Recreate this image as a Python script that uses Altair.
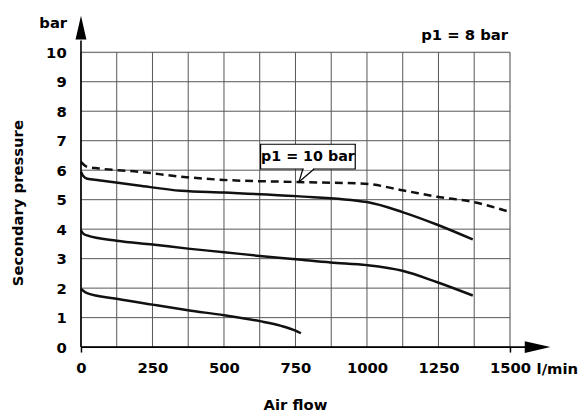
import altair as alt
import pandas as pd

# ---- data ----
dash_x = [0, 20, 62, 200, 350, 500, 752, 993, 1124, 1245, 1372, 1500]
dash_y = [6.28, 6.12, 6.06, 5.95, 5.78, 5.67, 5.6, 5.54, 5.32, 5.1, 4.92, 4.58]

top_x = [0, 8, 22, 62, 200, 350, 500, 752, 1000, 1124, 1246, 1370]
top_y = [5.95, 5.8, 5.71, 5.66, 5.48, 5.3, 5.24, 5.12, 4.92, 4.58, 4.15, 3.65]

mid_x = [0, 8, 21, 125, 250, 374, 500, 625, 752, 873, 1000, 1124, 1246, 1370]
mid_y = [3.96, 3.85, 3.79, 3.61, 3.48, 3.34, 3.22, 3.09, 2.98, 2.87, 2.78, 2.59, 2.2, 1.75]

low_x = [0, 21, 125, 250, 374, 500, 625, 700, 752, 769]
low_y = [1.97, 1.83, 1.64, 1.44, 1.25, 1.08, 0.88, 0.72, 0.55, 0.47]

x_grid = list(range(0, 1501, 125))
x_labels = list(range(0, 1501, 250))
y_ticks = list(range(0, 11))

# callout annotation (data coordinates)
box = {"x": 628, "x2": 959, "y": 6.88, "y2": 6.04}
tip = {"x": 762, "y": 5.6}
base_l = {"x": 776, "y": 6.04}
base_r = {"x": 815, "y": 6.04}

FONT = "DejaVu Sans"
W, H = 435, 299

xs = alt.Scale(domain=[0, 1500], nice=False, zero=False)
ys = alt.Scale(domain=[0, 10], nice=False, zero=False)

X_AX = alt.Axis(values=x_labels, grid=False, domain=False, tickSize=5, tickWidth=1.5,
                tickColor={"condition": {"test": "datum.value == 0 || datum.value == 1500",
                                         "value": "black"}, "value": "transparent"},
                format="d", labelOverlap=False,
                labelFont=FONT, labelFontSize=15, labelFontWeight="bold",
                labelColor="black", labelPadding=9, labelFlush=False)
Y_AX = alt.Axis(values=y_ticks, grid=False, domain=False, ticks=False,
                format="d", labelOverlap=False,
                labelFont=FONT, labelFontSize=15, labelFontWeight="bold",
                labelColor="black", labelPadding=15)

def X(field):
    return alt.X(field, type="quantitative", scale=xs, axis=X_AX, title=None)

def Y(field):
    return alt.Y(field, type="quantitative", scale=ys, axis=Y_AX, title=None)

def curve_df(xs_, ys_, name):
    return pd.DataFrame({"flow": xs_, "pressure": ys_, "curve": name})

vgrid = alt.Chart(pd.DataFrame({"flow": x_grid})).mark_rule(color="#555", strokeWidth=1).encode(
    x=X("flow"))
hgrid = alt.Chart(pd.DataFrame({"pressure": y_ticks})).mark_rule(color="#555", strokeWidth=1).encode(
    y=Y("pressure"))

def solid(xs_, ys_, name):
    return alt.Chart(curve_df(xs_, ys_, name)).mark_line(
        color="#111", strokeWidth=2.5, interpolate="monotone").encode(
        x=X("flow"), y=Y("pressure"))

dashed = alt.Chart(curve_df(dash_x, dash_y, "p1 = 10 bar")).mark_line(
    color="#111", strokeWidth=2.5, strokeDash=[8, 5], interpolate="monotone").encode(
    x=X("flow"), y=Y("pressure"))

one = alt.Chart(pd.DataFrame({"a": [0]}))

# axis lines with arrows
y_axis_line = one.mark_rule(color="black", strokeWidth=1.6).encode(
    x=alt.value(0), y=alt.value(-12), y2=alt.value(H))
x_axis_line = one.mark_rule(color="black", strokeWidth=1.6).encode(
    x=alt.value(0), x2=alt.value(452), y=alt.value(H))
y_arrow = one.mark_point(shape="M0,-1L0.46,1L-0.46,1Z", size=576, filled=True,
                         color="black", opacity=1).encode(x=alt.value(0), y=alt.value(-25))
x_arrow = one.mark_point(shape="M1,0L-1,-0.46L-1,0.46Z", size=676, filled=True,
                         color="black", opacity=1).encode(x=alt.value(463), y=alt.value(H))

# callout
callout_box = alt.Chart(pd.DataFrame([box])).mark_rect(
    fill="white", stroke="black", strokeWidth=1.2).encode(
    x=X("x"), x2="x2:Q", y=Y("y"), y2="y2:Q")
ptr_df = pd.DataFrame([
    {"x": tip["x"], "y": tip["y"], "x2": base_l["x"], "y2": base_l["y"]},
    {"x": tip["x"], "y": tip["y"], "x2": base_r["x"], "y2": base_r["y"]},
])
pointer_fill = alt.Chart(pd.DataFrame([{"x": base_l["x"] + 3, "x2": base_r["x"] - 3,
                                        "y": base_l["y"]}])).mark_rule(
    color="white", strokeWidth=2.5).encode(x=X("x"), x2="x2:Q", y=Y("y"))
pointer = alt.Chart(ptr_df).mark_rule(color="black", strokeWidth=1.2).encode(
    x=X("x"), x2="x2:Q", y=Y("y"), y2="y2:Q")
callout_text = alt.Chart(pd.DataFrame([{"x": (box["x"] + box["x2"]) / 2,
                                        "y": (box["y"] + box["y2"]) / 2,
                                        "t": "p1 = 10 bar"}])).mark_text(
    font=FONT, fontSize=14.5, fontWeight="bold", color="black", baseline="middle",
    align="center").encode(x=X("x"), y=Y("y"), text="t:N")

def label(text, x, y, align="left", angle=0, size=15):
    return one.mark_text(text=text, font=FONT, fontSize=size, fontWeight="bold",
                         color="black", align=align, baseline="alphabetic",
                         angle=angle).encode(x=alt.value(x), y=alt.value(y))

texts = [
    label("bar", -14, -25, align="right"),
    label("p1 = 8 bar", 433, -12, align="right"),
    label("l/min", 462, 326, align="left"),
    label("Air flow", W / 2, 363, align="center"),
    label("Secondary pressure", -59, 153, align="center", angle=270),
]

chart = alt.layer(
    vgrid, hgrid, dashed, solid(top_x, top_y, "a"), solid(mid_x, mid_y, "b"),
    solid(low_x, low_y, "c"),
    callout_box, pointer_fill, pointer, callout_text,
    y_axis_line, x_axis_line, y_arrow, x_arrow, *texts,
).properties(
    width=W, height=H,
    autosize=alt.AutoSizeParams(type="none"),
    padding={"left": 74, "top": 42, "right": 70, "bottom": 68},
).configure_view(stroke="black", strokeWidth=1.2).configure(background="white")

chart.save("out.html", embed_options={"renderer": "svg", "actions": False})
